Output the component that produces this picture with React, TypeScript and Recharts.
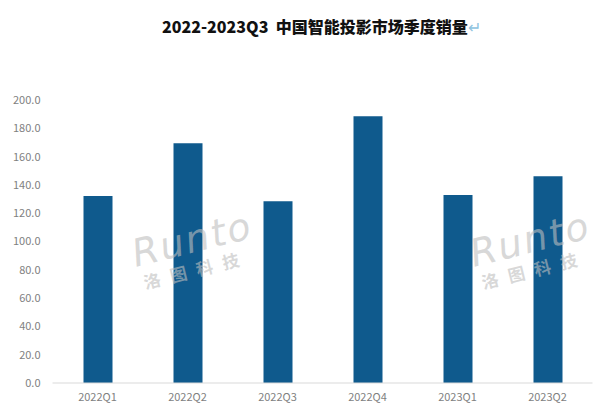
import React from "react";
import { BarChart, Bar, XAxis, YAxis } from "recharts";

const categories = ["2022Q1", "2022Q2", "2022Q3", "2022Q4", "2023Q1", "2023Q2"];
const sales = [132.2, 169.5, 128.5, 188.5, 132.8, 146.2];
const yTicks = [0, 20, 40, 60, 80, 100, 120, 140, 160, 180, 200];
const titleText = "2022-2023Q3  中国智能投影市场季度销量";

const data = categories.map((c, i) => ({ name: c, value: sales[i] }));

const fontFamily = '"Noto Sans CJK SC", "Noto Sans", sans-serif';

const Watermark = ({ left, top }: { left: number; top: number }) => (
  <div
    style={{
      position: "absolute",
      left,
      top,
      transform: "rotate(-14deg)",
      transformOrigin: "left top",
      color: "rgba(190,190,190,0.6)",
      fontFamily,
      pointerEvents: "none",
      lineHeight: 1,
    }}
  >
    <div style={{ fontSize: 38, fontStyle: "italic", letterSpacing: 2, fontFamily: '"DejaVu Sans", sans-serif', fontWeight: 300 }}>Runto</div>
    <div style={{ fontSize: 17, fontWeight: 700, letterSpacing: 10, marginTop: 2, marginLeft: 4 }}>洛图科技</div>
  </div>
);

export default function App() {
  return (
    <div style={{ position: "absolute", left: 0, top: 0, width: 600, height: 407, background: "#fff", overflow: "hidden" }}>
      <div
        style={{
          position: "absolute",
          left: 162,
          top: 14,
          fontFamily,
          fontWeight: 900,
          fontSize: 16,
          color: "#111",
          whiteSpace: "pre",
        }}
      >
        {titleText}
        <span style={{ color: "#8fc3e0", fontWeight: 400 }}>↵</span>
      </div>
      <BarChart
        width={600}
        height={407}
        data={data}
        margin={{ top: 100, right: 7.5, bottom: 0, left: 0 }}
        barCategoryGap={30.5}
      >
        <XAxis
          dataKey="name"
          height={24}
          tickLine={false}
          axisLine={{ stroke: "#d9d9d9" }}
          tick={{ fill: "#7f7f7f", fontSize: 11, fontFamily }}
          tickMargin={4}
          interval={0}
        />
        <YAxis
          width={52.5}
          domain={[0, 200]}
          ticks={yTicks}
          tickLine={false}
          axisLine={false}
          tickMargin={6}
          tickFormatter={(v: number) => v.toFixed(1)}
          tick={{ fill: "#7f7f7f", fontSize: 11, fontFamily }}
        />
        <Bar dataKey="value" fill="#0f5a8d" barSize={29} isAnimationActive={false} />
      </BarChart>
      <Watermark left={128} top={236} />
      <Watermark left={466} top={236} />
    </div>
  );
}
